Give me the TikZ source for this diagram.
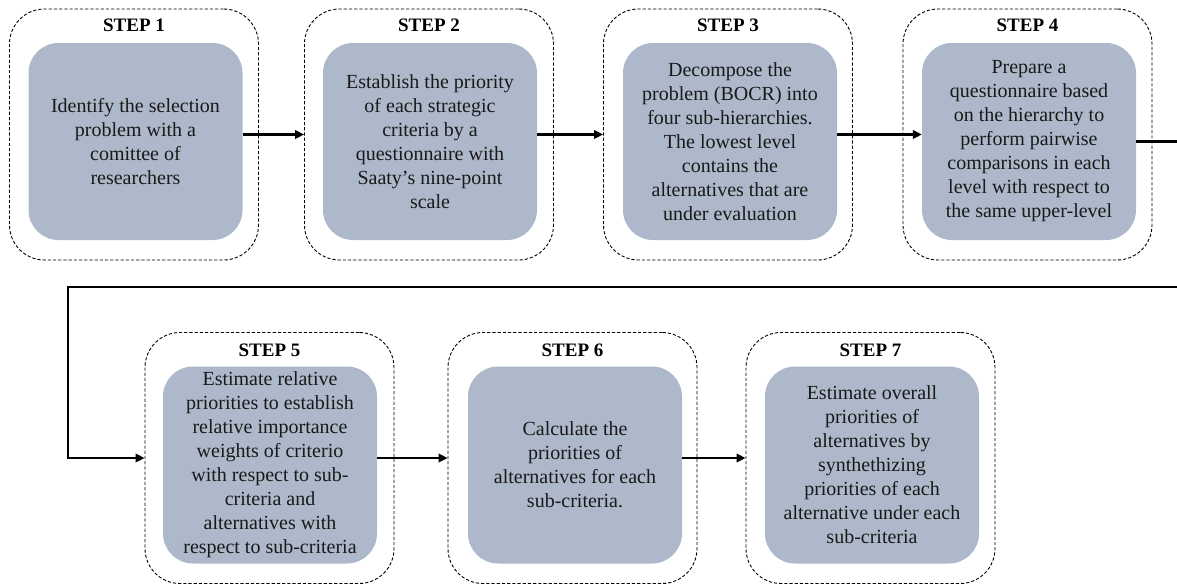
\documentclass[tikz,border=0pt]{standalone}
\usepackage{fontspec}
\setmainfont{Liberation Serif}
\usetikzlibrary{arrows.meta}
\definecolor{boxfill}{RGB}{173,185,202}
\tikzset{
  outerbox/.style={draw=black, line width=0.9pt, dash pattern=on 3.2pt off 2pt, rounded corners=35pt, minimum width=249pt, minimum height=251pt, inner sep=0pt},
  innerbox/.style={fill=boxfill, rounded corners=30pt, minimum width=214pt, minimum height=197pt, inner sep=0pt, align=center, font=\fontsize{20}{24}\selectfont, text=black!90},
  steplabel/.style={font=\fontsize{19}{22}\selectfont\bfseries, inner sep=0pt},
  conn/.style={line width=2.2pt, -{Triangle[length=9pt,width=8.5pt]}}
}
\begin{document}
\begin{tikzpicture}[x=1pt,y=-1pt]
\useasboundingbox (0,0) rectangle (1177,584);
% row 1
\node[outerbox] (s1out) at (134,134.5) {};
\node[outerbox] (s2out) at (429,134.5) {};
\node[outerbox] (s3out) at (728,134.5) {};
\node[outerbox] (s4out) at (1027.5,134.5) {};
\node[steplabel] (s1lab) at (134,25) {STEP 1};
\node[steplabel] (s2lab) at (429,25) {STEP 2};
\node[steplabel] (s3lab) at (728,25) {STEP 3};
\node[steplabel] (s4lab) at (1027.5,25) {STEP 4};
\node[innerbox] (s1in) at (135.5,141.5) {Identify the selection\\problem with a\\comittee of\\researchers};
\node[innerbox] (s2in) at (430,141.5) {Establish the priority\\of each strategic\\criteria by a\\questionnaire with\\Saaty’s nine-point\\scale};
\node[innerbox] (s3in) at (730,141.5) {Decompose the\\problem (BOCR) into\\four sub-hierarchies.\\The lowest level\\contains the\\alternatives that are\\under evaluation};
\node[innerbox] (s4in) at (1029,141.5) {Prepare a\\questionnaire based\\on the hierarchy to\\perform pairwise\\comparisons in each\\level with respect to\\the same upper-level};
% row 2
\node[outerbox] (s5out) at (269.5,458) {};
\node[outerbox] (s6out) at (572.5,458) {};
\node[outerbox] (s7out) at (870.5,458) {};
\node[steplabel] (s5lab) at (269.5,350) {STEP 5};
\node[steplabel] (s6lab) at (572.5,350) {STEP 6};
\node[steplabel] (s7lab) at (870.5,350) {STEP 7};
\node[innerbox] (s5in) at (270,465) {Estimate relative\\priorities to establish\\relative importance\\weights of criterio\\with respect to sub-\\criteria and\\alternatives with\\respect to sub-criteria};
\node[innerbox] (s6in) at (575,465) {Calculate the\\priorities of\\alternatives for each\\sub-criteria.};
\node[innerbox] (s7in) at (872,465) {Estimate overall\\priorities of\\alternatives by\\synthethizing\\priorities of each\\alternative under each\\sub-criteria};
% connectors
\draw[conn] (s1in.east |- s1out.center) -- (s2out.west);
\draw[conn] (s2in.east |- s2out.center) -- (s3out.west);
\draw[conn] (s3in.east |- s3out.center) -- (s4in.west |- s3out.center);
\coordinate (ra) at (1185,287);
\coordinate (la) at (68,287);
\draw[conn, rounded corners=0pt] (s4in.east) -| (ra) -- (la) |- (s5out.west);
\draw[conn] (s5in.east |- s5out.center) -- (s6out.west);
\draw[conn] (s6in.east |- s6out.center) -- (s7out.west);
\end{tikzpicture}
\end{document}
